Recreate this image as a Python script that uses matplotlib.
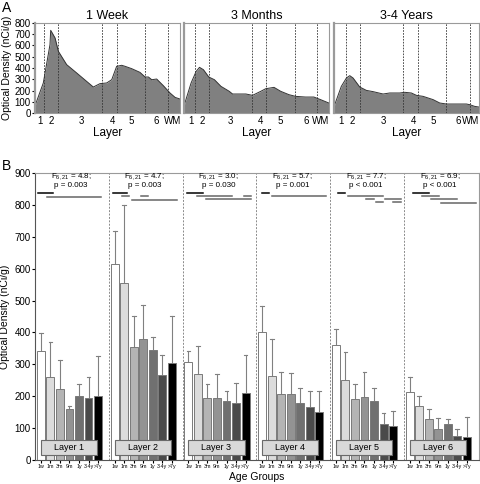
import numpy as np
import matplotlib.pyplot as plt
from matplotlib.patches import Rectangle

# ---- panel A: optical density profiles across cortical depth ----
profile_titles = ['1 Week', '3 Months', '3-4 Years']

week1_x = [0.0, 0.057, 0.103, 0.108, 0.138, 0.161, 0.218, 0.287, 0.356, 0.402, 0.448, 0.494, 0.529,
           0.563, 0.598, 0.621, 0.667, 0.724, 0.759, 0.782, 0.805, 0.839, 0.885, 0.931, 0.966, 1.0]
week1_y = [65, 267, 607, 735, 667, 548, 430, 356, 281, 231, 261, 267, 296,
           415, 424, 415, 394, 361, 320, 320, 296, 302, 243, 178, 139, 124]
month3_x = [0.0, 0.05, 0.085, 0.108, 0.135, 0.172, 0.211, 0.256, 0.313, 0.336, 0.428, 0.474, 0.531,
            0.565, 0.622, 0.668, 0.725, 0.771, 0.84, 0.897, 0.943, 1.0]
month3_y = [59, 267, 370, 406, 385, 320, 296, 237, 193, 169, 169, 157, 193,
            216, 228, 193, 163, 148, 142, 142, 119, 89]
year3_x = [0.0, 0.05, 0.085, 0.108, 0.131, 0.177, 0.223, 0.269, 0.338, 0.384, 0.453, 0.487, 0.533,
           0.568, 0.614, 0.683, 0.729, 0.775, 0.913, 0.936, 0.97, 1.0]
year3_y = [59, 237, 311, 332, 311, 231, 201, 190, 169, 178, 178, 184, 178,
           157, 148, 119, 89, 80, 80, 74, 59, 53]

profiles_x = [week1_x, month3_x, year3_x]
profiles_y = [week1_y, month3_y, year3_y]

layer_bounds = [
    [0.064, 0.161, 0.46, 0.563, 0.759, 0.92],
    [0.075, 0.173, 0.47, 0.566, 0.765, 0.92],
    [0.08, 0.18, 0.478, 0.582, 0.77, 0.938],
]
layer_ticks = [
    [0.034, 0.115, 0.317, 0.536, 0.662, 0.839, 0.95],
    [0.048, 0.125, 0.322, 0.527, 0.664, 0.845, 0.945],
    [0.048, 0.126, 0.34, 0.547, 0.685, 0.858, 0.945],
]
layer_names = ['1', '2', '3', '4', '5', '6', 'WM']

# ---- panel B: mean optical density per layer and age group ----
age_groups = ['1w', '1m', '3m', '9m', '1y', '3-4y', '>7y']
layers = ['Layer 1', 'Layer 2', 'Layer 3', 'Layer 4', 'Layer 5', 'Layer 6']
means = [
    [343, 260, 223, 160, 200, 195, 202],
    [614, 556, 354, 380, 345, 268, 304],
    [307, 270, 194, 195, 184, 180, 210],
    [401, 263, 208, 207, 179, 166, 150],
    [361, 251, 192, 198, 186, 113, 107],
    [213, 168, 129, 97, 113, 76, 71],
]
upper = [
    [397, 370, 312, 170, 238, 260, 325],
    [718, 799, 451, 485, 387, 328, 451],
    [343, 359, 239, 270, 216, 242, 330],
    [482, 380, 275, 273, 225, 217, 217],
    [412, 340, 239, 276, 225, 148, 155],
    [260, 202, 160, 132, 129, 96, 134],
]
stats_text = [
    ('4.8', '= 0.003'), ('4.7', '= 0.003'), ('3.0', '= 0.030'),
    ('5.7', '= 0.001'), ('7.7', '< 0.001'), ('6.9', '< 0.001'),
]
# post-hoc bars: (from bar, to bar, level, is_black)
posthoc = [
    [(-0.3, 1.27, 836, True), (0.64, 6.3, 825, False)],
    [(-0.14, 1.27, 836, True), (0.81, 1.51, 828, False), (2.78, 3.48, 828, False), (1.8, 6.5, 815, False)],
    [(-0.11, 1.58, 836, True), (0.88, 4.57, 828, False), (5.86, 6.6, 828, False), (1.86, 6.6, 817, False)],
    [(0.03, 0.74, 836, True), (1.02, 6.73, 828, False)],
    [(0.17, 0.91, 836, True), (1.22, 4.95, 828, False), (3.19, 3.95, 817, False), (4.24, 4.95, 809, False),
     (5.19, 6.87, 817, False), (6.04, 6.87, 809, False)],
    [(0.3, 1.99, 836, True), (1.29, 3.04, 828, False), (2.27, 4.98, 817, False), (3.32, 7.0, 807, False)],
]
bar_colors = ['#ffffff', '#dcdcdc', '#b4b4b4', '#939393', '#707070', '#4a4a4a', '#000000']

plt.rcParams['font.family'] = ['Liberation Sans', 'DejaVu Sans']
frame_color = '#9a9a9a'

fig = plt.figure(figsize=(4.8, 4.84), dpi=100)

lefts = [0.073, 0.383, 0.696]
for k in range(3):
    ax = fig.add_axes([lefts[k], 0.7665, 0.302, 0.186])
    ax.fill_between(profiles_x[k], profiles_y[k], 0, color='#808080', lw=0)
    ax.plot(profiles_x[k], profiles_y[k], color='#333333', lw=0.7)
    for b in layer_bounds[k]:
        ax.axvline(b, color='#333333', ls=(0, (2, 1.5)), lw=0.6)
    ax.set_xlim(0, 1)
    ax.set_ylim(0, 800)
    ax.set_xticks(layer_ticks[k])
    ax.set_xticklabels(layer_names, fontsize=7)
    ax.tick_params(axis='x', length=0, pad=2)
    ax.set_yticks(np.arange(0, 801, 100))
    if k == 0:
        ax.tick_params(axis='y', labelsize=7, length=2, pad=1)
        ax.set_ylabel('Optical Density (nCi/g)', fontsize=7.5, labelpad=2)
    else:
        ax.tick_params(axis='y', labelleft=False, length=0)
    ax.set_xlabel('Layer', fontsize=8.5, labelpad=1)
    ax.set_title(profile_titles[k], fontsize=9, pad=3)
    for s in ax.spines.values():
        s.set_color(frame_color)
        s.set_linewidth(0.8)
    ax.spines['left'].set_linewidth(1.6)

fig.text(0.004, 0.997, 'A', fontsize=10, va='top', ha='left')
fig.text(0.004, 0.672, 'B', fontsize=10, va='top', ha='left')

ax = fig.add_axes([0.073, 0.0496, 0.925, 0.593])
spacing = 0.129
width = 0.108
offset = 0.08
tick_pos = []
tick_lab = []
for g in range(len(layers)):
    xs = g + offset + spacing * np.arange(len(age_groups))
    ax.bar(xs, means[g], width=width, color=bar_colors, edgecolor='#7a7a7a', lw=0.7, zorder=2)
    for i in range(len(age_groups)):
        ax.plot([xs[i], xs[i]], [means[g][i], upper[g][i]], color='#808080', lw=0.8, zorder=1)
        ax.plot([xs[i] - 0.025, xs[i] + 0.025], [upper[g][i], upper[g][i]], color='#808080', lw=0.8, zorder=1)
    tick_pos += list(xs)
    tick_lab += age_groups
    ax.add_patch(Rectangle((g + 0.08, 16), 0.76, 47, facecolor='#d9d9d9', edgecolor='#6a6a6a',
                           lw=0.8, zorder=4))
    ax.text(g + 0.46, 39.5, layers[g], fontsize=6.5, ha='center', va='center', zorder=5)
    ax.text(g + 0.49, 890, '$\\mathregular{F_{6,21}}$ = ' + stats_text[g][0] + ';',
            fontsize=5.8, ha='center', va='center')
    ax.text(g + 0.49, 862, 'p ' + stats_text[g][1], fontsize=5.8, ha='center', va='center')
    for x0, x1, lev, black in posthoc[g]:
        ax.plot([g + offset + spacing * x0, g + offset + spacing * x1], [lev, lev],
                color='#000000' if black else '#666666', lw=1.1)
    if g > 0:
        ax.axvline(g, color='#8a8a8a', ls=(0, (2, 1.5)), lw=0.7)

ax.set_xlim(0, 6.02)
ax.set_ylim(0, 900)
ax.set_yticks(np.arange(0, 901, 100))
ax.tick_params(axis='y', labelsize=7, length=2, pad=1)
ax.set_xticks(tick_pos)
ax.set_xticklabels(tick_lab, fontsize=3.8)
ax.tick_params(axis='x', length=2, pad=1)
ax.set_ylabel('Optical Density (nCi/g)', fontsize=7.5, labelpad=3)
ax.set_xlabel('Age Groups', fontsize=7.5, labelpad=2)
for s in ax.spines.values():
    s.set_color(frame_color)
    s.set_linewidth(0.8)
ax.spines['left'].set_color('#555555')
ax.spines['bottom'].set_color('#555555')

fig.savefig('out.png', dpi=100)
